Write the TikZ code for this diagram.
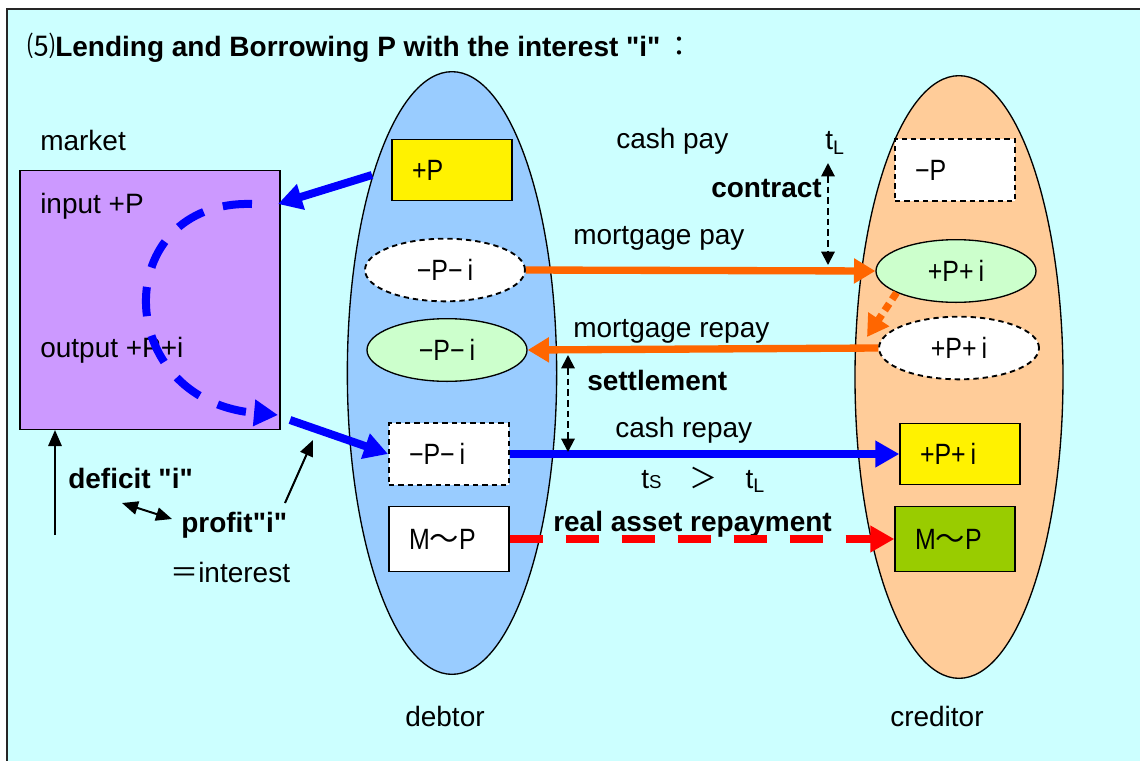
\documentclass[tikz,border=0pt]{standalone}
\usepackage{fontspec}
\setmainfont{Liberation Sans}[Ligatures=TeXOff]
\newfontfamily\jfont{Noto Sans CJK JP}
\newfontfamily\boxfont{Liberation Sans}[FakeStretch=0.85]
\usetikzlibrary{arrows.meta,shapes.geometric}
\definecolor{sky}{HTML}{CCFFFF}
\definecolor{lilac}{HTML}{CC99FF}
\definecolor{debtblue}{HTML}{99CCFF}
\definecolor{credpeach}{HTML}{FFCC99}
\definecolor{mint}{HTML}{CCFFCC}
\definecolor{olive}{HTML}{99CC00}
\definecolor{tangerine}{HTML}{FF6600}
\tikzset{lbl/.style={inner sep=0pt,font=\fontsize{21}{25}\selectfont}, blbl/.style={inner sep=0pt,font=\fontsize{21}{25}\selectfont\bfseries}, party/.style={ellipse,draw,line width=1pt,minimum width=157pt,minimum height=452pt,inner sep=0pt}, acct/.style={rectangle,draw,line width=1pt,minimum width=90pt,minimum height=46pt,text width=60pt,inner xsep=15pt,align=left,font=\boxfont\fontsize{22}{24}\selectfont}, acctell/.style={ellipse,draw,line width=1pt,minimum width=120pt,minimum height=47pt,inner sep=0pt,font=\boxfont\fontsize{22}{24}\selectfont}, pending/.style={line width=1.4pt,dash pattern=on 4pt off 3pt}, cashflow/.style={line width=6pt,draw=blue,-{Triangle[length=18pt,width=19pt]}}, cycleflow/.style={line width=6pt,draw=blue,dash pattern=on 22pt off 15pt,-{Triangle[length=18pt,width=19pt]}}, mortflow/.style={line width=5.5pt,draw=tangerine,-{Triangle[length=16pt,width=18pt]}}, assetflow/.style={line width=6pt,draw=red,dash pattern=on 25pt off 17pt,-{Triangle[length=18pt,width=19pt]}}, push/.style={line width=1.5pt,-{Triangle[length=12pt,width=10pt]}}, timing/.style={line width=1.5pt,dash pattern=on 5pt off 3pt,{Triangle[length=10pt,width=10pt]}-{Triangle[length=10pt,width=10pt]}}}

\begin{document}
\begin{tikzpicture}[x=0.75pt,y=-0.75pt]
\useasboundingbox (0,0) rectangle (1140,761);
\fill[sky] (7,9) rectangle (1140,761);
\draw[line width=1.5pt,black!85] (7,761) -- (7,9) -- (1140,9);
\node[lbl,anchor=west] (title) at (27,48) {{\jfont ⑸}\textbf{Lending and Borrowing P with the interest "i"}\,{\jfont ：}};
\node[lbl,anchor=west] (marketlbl) at (40,140) {market};
\node[draw,line width=1pt,fill=lilac,minimum width=195pt,minimum height=194pt] (market) at (150,300) {};
\node[lbl,anchor=west] (input) at (40,206) {input +P};
\node[lbl,anchor=west] (output) at (40,350) {output +P+i};
\node[party,fill=debtblue] (debtor) at (452,373) {};
\node[party,fill=credpeach,minimum width=156pt] (creditor) at (959,377) {};
\node[lbl,anchor=west] (debtorlbl) at (405,716) {debtor};
\node[lbl,anchor=west] (creditorlbl) at (890,716) {creditor};
\node[acct,fill=yellow] (dcash) at (452,170) {+P};
\node[acctell,fill=white,pending] (dmort) at (445,270) {−P−\,i};
\node[acctell,fill=mint] (dsettle) at (447,350) {−P−\,i};
\node[acct,fill=white,pending] (drepay) at (449,454) {−P−\,i};
\node[acct,fill=white,minimum height=49pt] (dasset) at (449,539) {M{\jfont ～}P};
\node[acct,fill=white,pending] (ccash) at (955,170) {−P};
\node[acctell,fill=mint] (cmort) at (956,271) {+P+\,i};
\node[acctell,fill=white,pending] (csettle) at (959,348) {+P+\,i};
\node[acct,fill=yellow] (crepay) at (960,454) {+P+\,i};
\node[acct,fill=olive,minimum height=49pt] (casset) at (955,539) {M{\jfont ～}P};
\node[lbl,anchor=west] (cashpay) at (616,141) {cash pay};
\node[lbl] (tL) at (835,143) {t\textsubscript{L}};
\node[blbl,anchor=east] (contract) at (822,188) {contract};
\node[lbl,anchor=west] (mortpay) at (573,238) {mortgage pay};
\node[lbl,anchor=west] (mortrepay) at (573,331) {mortgage repay};
\node[blbl,anchor=west] (settle) at (587,380) {settlement};
\node[lbl,anchor=west] (cashrepay) at (615,430) {cash repay};
\node[lbl,anchor=west] (order) at (641,480) {t{\fontsize{14}{14}\selectfont S}\quad{\jfont ＞}\quad t\textsubscript{L}};
\node[blbl,anchor=west] (realasset) at (553,524) {real asset repayment};
\node[blbl,anchor=west] (deficit) at (68,478) {deficit "i"};
\node[blbl,anchor=west] (profit) at (181,525) {profit"i"};
\node[lbl,anchor=west] (interest) at (170,572) {{\jfont ＝}interest};
\coordinate (cashOut) at (372,175);
\coordinate (inTip) at (278,204);
\coordinate (loopStart) at (252,204);
\coordinate (loopEnd) at (278,415);
\coordinate (outTail) at (290,420);
\coordinate (defTail) at (55,535);
\coordinate (gapL) at (122,503);
\coordinate (gapR) at (172,519);
\coordinate (profTail) at (285,503);
\coordinate (profTip) at (313,440);
\coordinate (mtip) at (867,337);
\coordinate (contractTop) at (828,163);
\coordinate (contractBot) at (828,265);
\coordinate (settleTop) at (568,355);
\coordinate (settleBot) at (568,452);
\draw[cashflow] (cashOut) -- (inTip);
\draw[cycleflow] (loopStart) .. controls (110,200) and (110,400) .. (loopEnd);
\draw[cashflow] (outTail) -- (drepay.west);
\draw[push] (defTail) -- (defTail |- market.south);
\draw[push,{Triangle[length=12pt,width=10pt]}-{Triangle[length=12pt,width=10pt]}] (gapL) -- (gapR);
\draw[push] (profTail) -- (profTip);
\draw[mortflow] (dmort.east) -- (cmort.west);
\draw[mortflow] (csettle.west) -- (dsettle.east);
\draw[mortflow,dash pattern=on 6pt off 4pt] (cmort.200) -- (mtip);
\draw[cashflow] (drepay.east) -- (crepay.west);
\draw[assetflow] (dasset.east) -- (casset.west);
\draw[timing] (contractTop) -- (contractBot);
\draw[timing] (settleTop) -- (settleBot);
\end{tikzpicture}
\end{document}
